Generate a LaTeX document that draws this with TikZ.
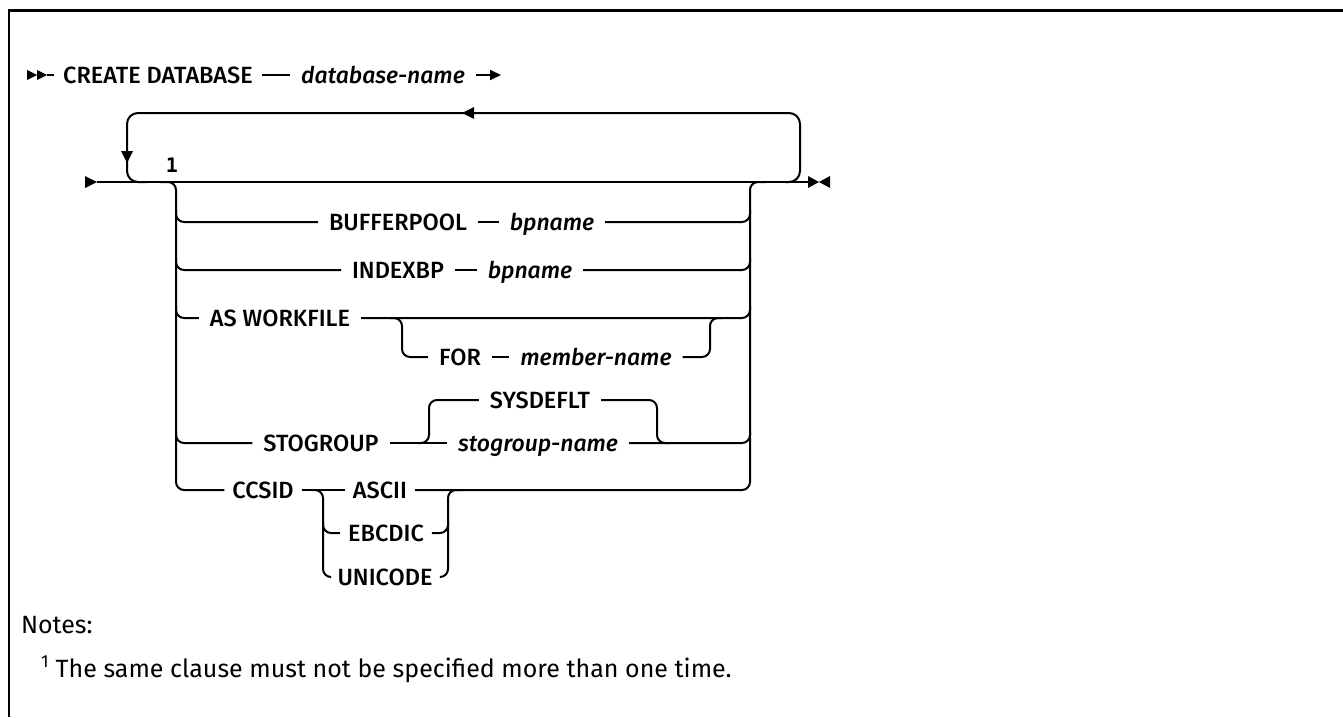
\documentclass[tikz,border=0pt]{standalone}
\usepackage{fontspec}
\IfFontExistsTF{Fira Sans Medium Italic}{%
  \newfontfamily\diagfont{Fira Sans}[UprightFont=* Medium,ItalicFont=* Medium Italic]}{%
  \newfontfamily\diagfont{Fira Sans}}
\newfontfamily\notefont{Fira Sans}
\newfontfamily\numfont{DejaVu Sans Mono}
\usetikzlibrary{arrows.meta}
\begin{document}
\begin{tikzpicture}[x=1pt,y=-1pt,line width=2pt,
  rr/.style={rounded corners=8pt},
  kw/.style={font=\diagfont\fontsize{23.5}{27}\selectfont,inner xsep=10pt,inner ysep=0pt,text height=18pt,text depth=2pt},
  var/.style={kw,font=\diagfont\itshape\fontsize{23}{27}\selectfont},
  tipfill/.style={fill=black,draw=none},
  notestyle/.style={font=\notefont\fontsize{25}{30}\selectfont,inner sep=0pt,anchor=base west}]
\useasboundingbox (0,0) rectangle (1343,717);
% frame
\draw[line width=3pt] (8,11) -- (1343,11);
\draw (9,10) -- (9,717);

% ---- row 1
\coordinate (s1) at (47,75);
\fill[tipfill] (27,70) -- (37,75) -- (27,80) -- cycle;
\fill[tipfill] (37,70) -- (47,75) -- (37,80) -- cycle;
\node[kw,inner xsep=8pt] (create) at (158,75) {CREATE DATABASE};
\node[var] (dbname) at (383,75) {database-name};
\coordinate (e1) at (501,75);
\draw (s1) -- (create.west);
\draw (create) -- (dbname);
\draw[-{Triangle[length=11pt,width=10pt]}] (dbname.east) -- (e1);

% ---- row 2 main line
\coordinate (s2) at (97,182);
\coordinate (e2) at (808,182);
\fill[tipfill] (85,176) -- (97,182) -- (85,188) -- cycle;
\draw (s2) -- (e2);
\fill[tipfill] (808,176) -- (819,182) -- (808,188) -- cycle;
\fill[tipfill] (830,176) -- (819,182) -- (830,188) -- cycle;

% repeat loop
\coordinate (lpR) at (785,182);
\coordinate (lpL) at (147,182);
\draw[rounded corners=11pt] (lpR) -- (800,182) -- (800,113) -- (127,113) -- (127,182) -- (lpL);
\fill[tipfill] (462,113) -- (474,107) -- (474,119) -- cycle;
\fill[tipfill] (127,163) -- (121,151) -- (133,151) -- cycle;
\node[font=\numfont\bfseries\fontsize{20}{24}\selectfont,inner sep=0pt] (fn1) at (172,165) {1};

% choice nodes
\node[kw] (bufferpool) at (398,222) {BUFFERPOOL};
\node[var] (bpA) at (552,222) {bpname};
\node[kw] (indexbp) at (398,270) {INDEXBP};
\node[var] (bpB) at (530,270) {bpname};
\node[kw] (asw) at (280,318) {AS WORKFILE};
\node[kw] (for) at (460,357) {FOR};
\node[var] (member) at (596,357) {member-name};
\node[kw] (stogroup) at (321,443) {STOGROUP};
\node[kw] (sysdeflt) at (540,400) {SYSDEFLT};
\node[var] (sgname) at (538,443) {stogroup-name};
\node[kw,inner xsep=7pt] (ccsid) at (263,490) {CCSID};
\node[kw,inner xsep=7pt] (ascii) at (380,490) {ASCII};
\node[kw,inner xsep=7pt] (ebcdic) at (386,533) {EBCDIC};
\node[kw,inner xsep=7pt] (unicode) at (385,577) {UNICODE};

% rails
\coordinate (railTL) at (160,182);
\coordinate (railTR) at (766,182);
\draw[rr] (railTL) -- (176,182) -- (176,490) -- (ccsid.west);
\draw[rr] (ascii.east) -- (750,490) -- (750,182) -- (railTR);
\draw (ccsid) -- (ascii);

% BUFFERPOOL
\draw[rr] (176,210) -- (176,222) -- (bufferpool.west);
\draw (bufferpool) -- (bpA);
\draw[rr] (bpA.east) -- (750,222) -- (750,210);
% INDEXBP
\draw[rr] (176,258) -- (176,270) -- (indexbp.west);
\draw (indexbp) -- (bpB);
\draw[rr] (bpB.east) -- (750,270) -- (750,258);
% AS WORKFILE
\draw[rr] (176,306) -- (176,318) -- (asw.west);
\draw[rr] (asw.east) -- (750,318) -- (750,306);
\coordinate (forL) at (390,318);
\coordinate (forR) at (722,318);
\draw[rr] (forL) -- (402,318) -- (402,357) -- (for.west);
\draw (for) -- (member);
\draw[rr] (member.east) -- (710,357) -- (710,318) -- (forR);
% STOGROUP
\draw[rr] (176,431) -- (176,443) -- (stogroup.west);
\draw (stogroup) -- (sgname);
\coordinate (sgL) at (418,443);
\coordinate (sgR) at (669,443);
\draw[rr] (sgL) -- (429,443) -- (429,400) -- (sysdeflt.west);
\draw[rr] (sysdeflt.east) -- (657,400) -- (657,443) -- (sgR);
\draw[rr] (sgname.east) -- (750,443) -- (750,431);
% CCSID
\coordinate (ccL) at (312,490);
\coordinate (ccR) at (460,490);
\draw[rr] (ccL) -- (323,490) -- (323,577) -- (unicode.west);
\draw[rr] (323,521) -- (323,533) -- (ebcdic.west);
\draw[rr] (unicode.east) -- (448,577) -- (448,490) -- (ccR);
\draw[rr] (ebcdic.east) -- (448,533) -- (448,521);

% notes
\node[notestyle] (notes) at (20,633) {Notes:};
\node[notestyle] (note1) at (40,677) {\textsuperscript{1} The same clause must not be specified more than one time.};
\end{tikzpicture}
\end{document}
